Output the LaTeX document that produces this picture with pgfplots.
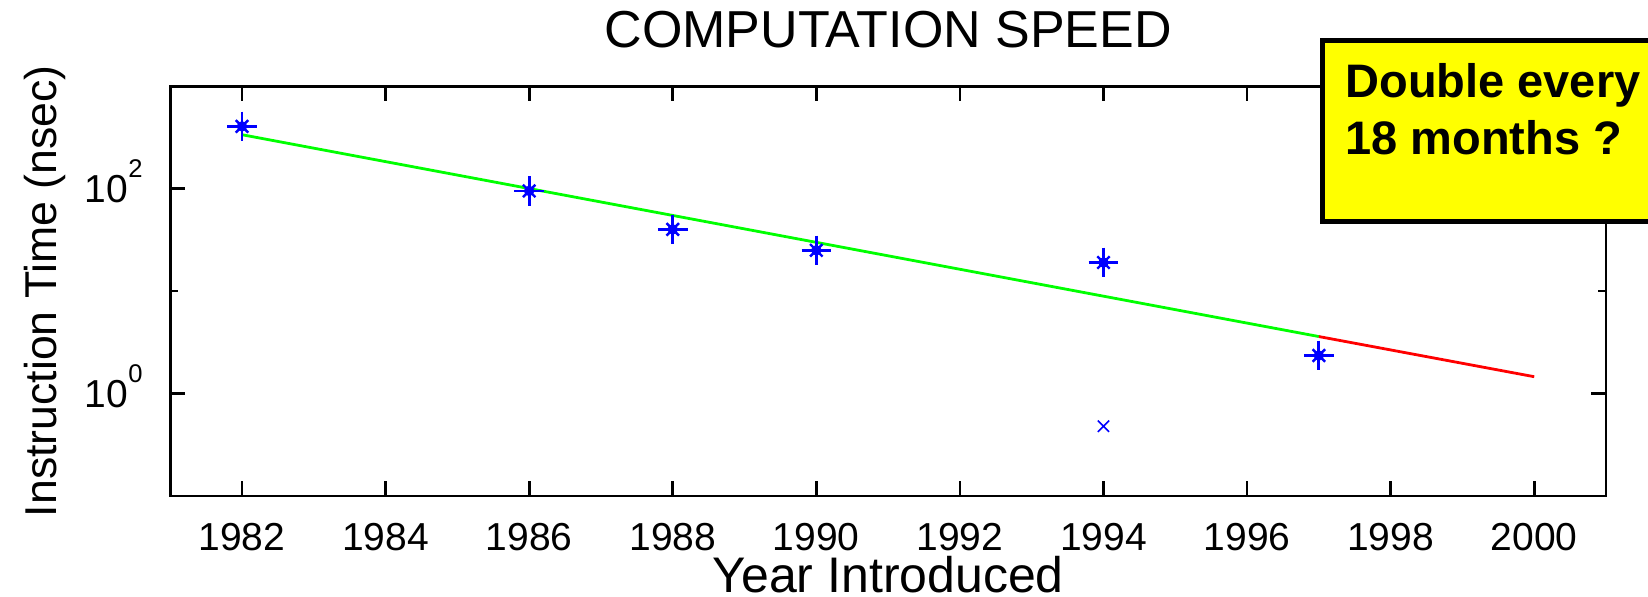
\documentclass[border=0pt]{standalone}
\usepackage{pgfplots}
\pgfplotsset{compat=1.18}
\usepackage{fontspec}
\setmainfont{Liberation Sans}

\definecolor{mgreen}{RGB}{0,255,0}
\definecolor{mred}{RGB}{255,0,0}
\definecolor{mblue}{RGB}{0,0,255}
\definecolor{boxyellow}{RGB}{255,255,0}

% 10 with a small raised exponent, as in the old MATLAB labels
\newcommand{\tenp}[1]{10\raisebox{12.5pt}{\fontsize{12.8pt}{12.8pt}\selectfont #1}}

\begin{document}
\begin{tikzpicture}
\useasboundingbox (0,0) rectangle (824pt,298.5pt);
\clip (0,0) rectangle (824pt,298.5pt);
\begin{axis}[
    at={(85.1pt,50.5pt)}, anchor=south west,
    scale only axis, width=717.9pt, height=204.9pt,
    xmin=1981, xmax=2001,
    ymode=log, ymin=0.1, ymax=1000,
    xtick={1982,1984,...,2000},
    ytick={1,100},
    yticklabels={\tenp{0},\tenp{2}},
    minor ytick={10},
    tick align=inside,
    xtick pos=both, ytick pos=both,
    xticklabel pos=bottom, yticklabel pos=left,
    major tick length=7.5pt, minor tick length=4pt,
    every tick/.style={black, line width=1.4pt},
    axis line style={line width=1.4pt},
    /pgf/number format/1000 sep={},
    /pgf/number format/assume math mode=true,
    tick label style={font=\fontsize{19.5pt}{19.5pt}\selectfont, inner sep=0pt},
    xticklabel style={anchor=base, yshift=-27.5pt},
    yticklabel style={anchor=base east, xshift=-13.6pt, yshift=-7pt},
    title={COMPUTATION SPEED},
    title style={at={([yshift=13.2pt]axis description cs:0.5,1)}, anchor=base,
        inner sep=0pt, font=\fontsize{26pt}{26pt}\selectfont},
    xlabel={Year Introduced},
    xlabel style={at={([yshift=-48.5pt]axis description cs:0.5,0)}, anchor=base,
        inner sep=0pt, font=\fontsize{25pt}{25pt}\selectfont},
    ylabel={Instruction Time (nsec)},
    ylabel style={at={([xshift=-57pt]axis description cs:0,0.5)}, anchor=base,
        inner sep=0pt, font=\fontsize{22.3pt}{22.3pt}\selectfont},
]
% fitted trend, then its extrapolation
\addplot[mgreen, line width=1.4pt] coordinates {(1982,336) (1997,3.6)};
\addplot[mred, line width=1.4pt] coordinates {(1997,3.6) (2000,1.46)};
% measured machines (MATLAB '*' = plus + cross)
\addplot[only marks, mblue, mark=+, mark size=7.4pt, line width=1.4pt] coordinates {
    (1982,405) (1986,95) (1988,40) (1990,25) (1994,19) (1997,2.35)};
\addplot[only marks, mblue, mark=x, mark size=4.4pt, line width=1.2pt] coordinates {
    (1982,405) (1986,95) (1988,40) (1990,25) (1994,19) (1997,2.35)};
\addplot[only marks, mblue, mark=*, mark size=2.4pt] coordinates {
    (1982,405) (1986,95) (1988,40) (1990,25) (1994,19) (1997,2.35)};
\addplot[only marks, mblue, mark=x, mark size=4pt, line width=0.8pt] coordinates {(1994,0.48)};
\end{axis}
\draw[line width=2.6pt, fill=boxyellow] (661.3pt,187.8pt) rectangle (840pt,278.3pt);
\node[anchor=base west, inner sep=0pt, font=\bfseries\fontsize{23.5pt}{23.5pt}\selectfont]
    at (672.5pt,249.6pt) {Double every};
\node[anchor=base west, inner sep=0pt, font=\bfseries\fontsize{23.5pt}{23.5pt}\selectfont]
    at (672.5pt,221.2pt) {18 months ?};
\end{tikzpicture}
\end{document}
